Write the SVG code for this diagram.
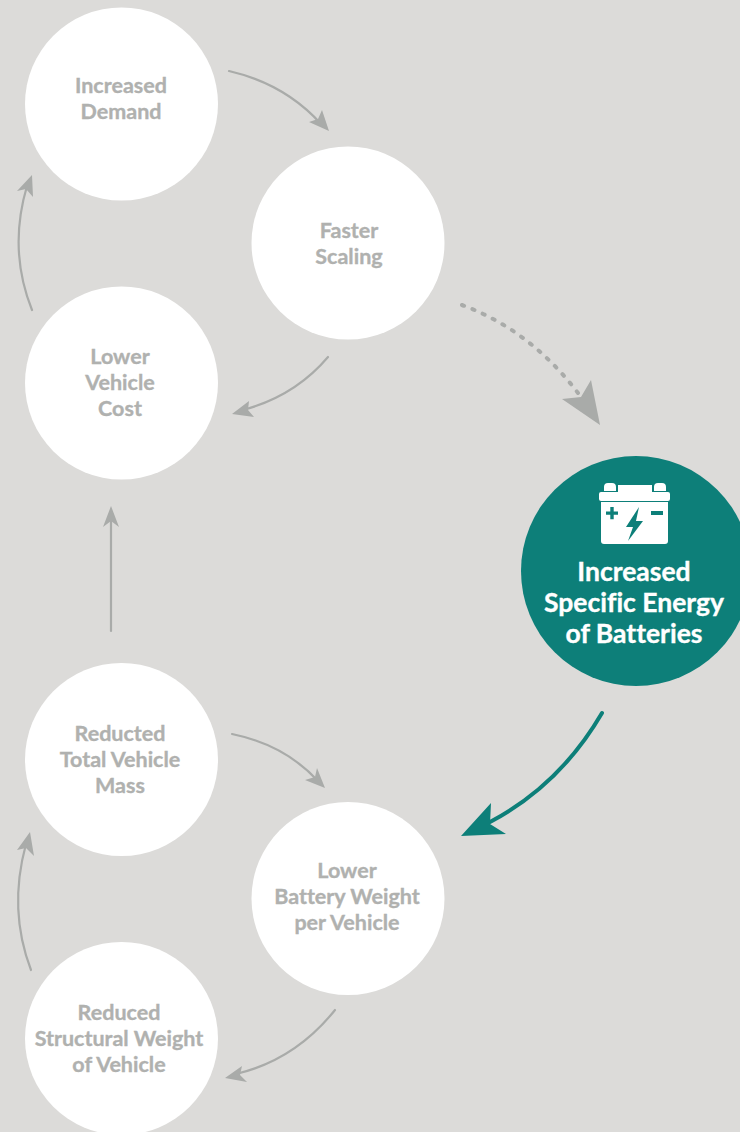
<svg xmlns="http://www.w3.org/2000/svg" width="740" height="1132" viewBox="0 0 740 1132">
<style>
.bg{fill:#dcdbd9}
.n{fill:#fff}
.t{font-family:"Lato","Liberation Sans",sans-serif;font-weight:700;font-size:21.5px;fill:#b0b1af;stroke:#b0b1af;stroke-width:.35;text-anchor:middle;font-variant-ligatures:none}
.w{font-family:"Lato","Liberation Sans",sans-serif;font-weight:700;font-size:26.5px;fill:#fff;stroke:#fff;stroke-width:.35;text-anchor:middle;font-variant-ligatures:none}
.c{fill:none;stroke:#a9aba9;stroke-width:2.2;stroke-linecap:round}
.h{fill:#a9aba9}
</style>
<rect class="bg" width="740" height="1132"/>
<g id="connectors">
<path class="c" d="M229 71Q285 84 321 124"/><polygon class="h" points="329,131 309,122 318,119 322,110"/>
<path class="c" d="M32 310Q8 250 27 186"/><polygon class="h" points="32,175 33,197 26,189 17,191"/>
<path class="c" d="M328 357Q295 396 243 410"/><polygon class="h" points="232,414 249,401 248,410 254,417"/>
<path class="c" d="M111 631V518"/><polygon class="h" points="111,506 119,527 111,521 103,527"/>
<path class="c" d="M232 734Q285 745 318 781"/><polygon class="h" points="325,788 305,780 315,777 317,768"/>
<path class="c" d="M31 970Q8 910 26 844"/><polygon class="h" points="30,832 34,856 26,848 17,850"/>
<path class="c" d="M335 1010Q295 1060 236 1074"/><polygon class="h" points="225,1078 242,1066 240,1075 247,1082"/>
<path d="M462 305Q530 330 578 393" fill="none" stroke="#a9aba9" stroke-width="4" stroke-linecap="round" stroke-dasharray="2.2 9"/>
<polygon class="h" points="600,425 562,399 581,397 591,380"/>
<path d="M602 713Q560 785 490 822" fill="none" stroke="#0d7f79" stroke-width="4" stroke-linecap="round"/>
<polygon fill="#0d7f79" points="461,836 491,803 490,824 506,834"/>
</g>
<g id="increased-demand"><circle class="n" cx="121.500" cy="104" r="96.500"/><text class="t" x="121" y="93">Increased</text><text class="t" x="121" y="119">Demand</text></g>
<g id="faster-scaling"><circle class="n" cx="348" cy="243" r="96.500"/><text class="t" x="349" y="238">Faster</text><text class="t" x="349" y="264">Scaling</text></g>
<g id="lower-vehicle-cost"><circle class="n" cx="121.500" cy="383" r="96.500"/><text class="t" x="120" y="364">Lower</text><text class="t" x="120" y="390">Vehicle</text><text class="t" x="120" y="416">Cost</text></g>
<g id="reducted-total-vehicle-mass"><circle class="n" cx="121.500" cy="759.500" r="96.500"/><text class="t" x="120" y="741">Reducted</text><text class="t" x="120" y="767">Total Vehicle</text><text class="t" x="120" y="793">Mass</text></g>
<g id="lower-battery-weight"><circle class="n" cx="348" cy="898.500" r="96.500"/><text class="t" x="347" y="878">Lower</text><text class="t" x="347" y="904">Battery Weight</text><text class="t" x="347" y="930">per Vehicle</text></g>
<g id="reduced-structural-weight"><circle class="n" cx="121.500" cy="1038.500" r="96.500"/><text class="t" x="119" y="1020">Reduced</text><text class="t" x="119" y="1046">Structural Weight</text><text class="t" x="119" y="1072">of Vehicle</text></g>
<g id="increased-specific-energy">
<circle cx="636" cy="571" r="115" fill="#0d7f79"/>
<path class="n" d="M604 491V487Q604 483 608 483H612Q616 483 616 487V491ZM654 491V487Q654 483 658 483H662Q666 483 666 487V491ZM618 485H652V492H668Q670 492 670 494V499Q670 501 668 501H601Q599 501 599 499V494Q599 492 601 492H618Z"/>
<path class="n" d="M601 502H668V541Q668 544 665 544H604Q601 544 601 541Z"/>
<path fill="#0d7f79" d="M606 511.500H610.300V507H613.700V511.500H618V514.800H613.700V519.300H610.300V514.800H606ZM651 511H663V515H651ZM639 507L626 527H633L628 541L643 521H636Z"/>
<text class="w" x="634" y="581">Increased</text>
<text class="w" x="634" y="612">Specific Energy</text>
<text class="w" x="634" y="643">of Batteries</text>
</g>
</svg>
